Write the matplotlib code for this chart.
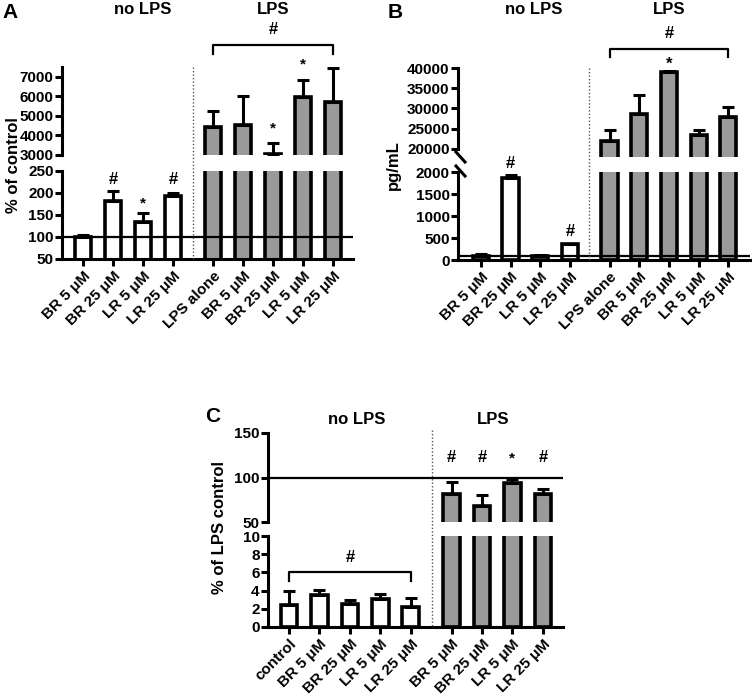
import matplotlib
matplotlib.use("Agg")
import matplotlib.pyplot as plt
from matplotlib.lines import Line2D
from matplotlib.transforms import blended_transform_factory
import numpy as np

plt.rcParams['font.family'] = ['Liberation Sans', 'DejaVu Sans']
plt.rcParams['font.weight'] = 'bold'
plt.rcParams['axes.labelweight'] = 'bold'

# ---------------- data ----------------
A_nolps_labels = ['BR 5 μM', 'BR 25 μM', 'LR 5 μM', 'LR 25 μM']
A_lps_labels = ['LPS alone', 'BR 5 μM', 'BR 25 μM', 'LR 5 μM', 'LR 25 μM']
A_nolps_mean = [100, 181, 133, 193]
A_nolps_err = [5, 23, 21, 6]
A_lps_mean = [4440, 4540, 3050, 5970, 5720]
A_lps_err = [810, 1490, 565, 880, 1740]

B_nolps_labels = ['BR 5 μM', 'BR 25 μM', 'LR 5 μM', 'LR 25 μM']
B_lps_labels = ['LPS alone', 'BR 5 μM', 'BR 25 μM', 'LR 5 μM', 'LR 25 μM']
B_nolps_mean = [90, 1860, 80, 360]
B_nolps_err = [45, 80, 35, 12]
B_lps_mean = [21900, 28700, 38900, 23400, 28000]
B_lps_err = [2800, 4700, 400, 1350, 2450]

C_nolps_labels = ['control', 'BR 5 μM', 'BR 25 μM', 'LR 5 μM', 'LR 25 μM']
C_lps_labels = ['BR 5 μM', 'BR 25 μM', 'LR 5 μM', 'LR 25 μM']
C_nolps_mean = [2.4, 3.5, 2.55, 3.05, 2.2]
C_nolps_err = [1.55, 0.55, 0.4, 0.55, 0.95]
C_lps_mean = [82, 68.5, 94, 82]
C_lps_err = [13, 12, 4.6, 5.3]

W, H = 752, 697
fig = plt.figure(figsize=(W / 100, H / 100), dpi=100)

WHITE = 'white'
GRAY = '#9a9a9a'
LW = 2.2
BAR_LW = 2.6
FS_TICK = 11


def pax(x0, y0, x1, y1):
    return fig.add_axes([x0 / W, 1 - y1 / H, (x1 - x0) / W, (y1 - y0) / H])


def fy(ypx):
    return 1 - ypx / H


def style(ax, bottom):
    ax.spines['top'].set_visible(False)
    ax.spines['right'].set_visible(False)
    ax.spines['left'].set_linewidth(LW)
    ax.spines['bottom'].set_linewidth(LW)
    ax.tick_params(axis='y', length=5, width=LW, labelsize=FS_TICK, pad=1)
    if not bottom:
        ax.spines['bottom'].set_visible(False)
        ax.tick_params(axis='x', bottom=False, labelbottom=False)
    else:
        ax.tick_params(axis='x', length=5, width=LW, labelsize=FS_TICK, pad=2)
    for t in ax.get_yticklabels():
        t.set_fontweight('bold')


def draw_panel(box_up, box_lo, ylim_up, ylim_lo, yt_up, yt_lo, xlim,
               n_no, n_lps, gap, means, errs, labels, hline=None, hline_ax='lo'):
    ax_up = pax(*box_up)
    ax_lo = pax(*box_lo)
    pos = list(range(n_no)) + [n_no - 1 + gap + i for i in range(n_lps)]
    colors = [WHITE] * n_no + [GRAY] * n_lps
    for ax in (ax_up, ax_lo):
        ax.bar(pos, means, width=0.55, color=colors, edgecolor='black',
               linewidth=BAR_LW, zorder=2)
        ax.errorbar(pos, means, yerr=[np.zeros(len(means)), errs], fmt='none',
                    ecolor='black', elinewidth=LW, capsize=4, capthick=LW, zorder=3)
        ax.set_xlim(*xlim)
    ax_up.set_ylim(*ylim_up)
    ax_lo.set_ylim(*ylim_lo)
    ax_up.set_yticks(yt_up)
    ax_lo.set_yticks(yt_lo)
    ax_lo.set_xticks(pos)
    ax_lo.set_xticklabels(labels, rotation=45, ha='right', rotation_mode='anchor',
                          fontsize=FS_TICK, fontweight='bold')
    style(ax_up, False)
    style(ax_lo, True)
    if hline is not None:
        (ax_lo if hline_ax == 'lo' else ax_up).axhline(hline, color='black', lw=1.6, zorder=4)
    return ax_up, ax_lo, pos


def ann(ax, x, ypx, s, size=12):
    tr = blended_transform_factory(ax.transData, fig.transFigure)
    ax.text(x, fy(ypx), s, transform=tr, ha='center', va='center',
            fontsize=size, fontweight='bold', clip_on=False)


def bracket(ax, x0, x1, ypx, ytick_px):
    tr = blended_transform_factory(ax.transData, fig.transFigure)
    ax.add_line(Line2D([x0, x0, x1, x1], [fy(ytick_px), fy(ypx), fy(ypx), fy(ytick_px)],
                       transform=tr, color='black', lw=1.6, clip_on=False))


def vdiv(xpx, y0, y1):
    fig.add_artist(Line2D([xpx / W, xpx / W], [fy(y0), fy(y1)], transform=fig.transFigure,
                          color='#555555', lw=1.0, linestyle=(0, (1, 1.5))))


def title(ax, x, ypx, s):
    ann(ax, x, ypx, s, size=12)


# ---------------- panel A ----------------
aU, aL, posA = draw_panel((62, 67, 353, 155), (62, 171, 353, 259),
                          (3000, 7500), (50, 250),
                          [3000, 4000, 5000, 6000, 7000], [50, 100, 150, 200, 250],
                          (-0.7, 9.0), 4, 5, 1.333,
                          A_nolps_mean + A_lps_mean, A_nolps_err + A_lps_err,
                          A_nolps_labels + A_lps_labels, hline=100)
ann(aL, posA[1], 179, '#')
ann(aL, posA[2], 203, '*', 11)
ann(aL, posA[3], 179, '#')
ann(aU, posA[6], 128, '*', 11)
ann(aU, posA[7], 64, '*', 11)
bracket(aU, posA[4], posA[8], 45, 54)
ann(aU, posA[6], 30, '#')
title(aU, 2.0, 9, 'no LPS')
title(aU, 6.33, 9, 'LPS')
vdiv(193, 67, 259)
fig.text(10 / W, fy(12), 'A', fontsize=15, fontweight='bold', ha='center', va='center')
fig.text(14 / W, fy(165), '% of control', rotation=90, fontsize=12, fontweight='bold',
         ha='center', va='center')

# ---------------- panel B ----------------
bU, bL, posB = draw_panel((458, 68, 750, 157), (458, 172, 750, 260),
                          (18000, 40000), (0, 2000),
                          [20000, 25000, 30000, 35000, 40000], [0, 500, 1000, 1500, 2000],
                          (-0.77, 9.07), 4, 5, 1.34,
                          B_nolps_mean + B_lps_mean, B_nolps_err + B_lps_err,
                          B_nolps_labels + B_lps_labels, hline=100)
bU.spines['left'].set_bounds(20000, 40000)
# axis break marks
for (x0, y0, x1, y1) in [(456, 152, 465, 162), (456, 166, 465, 176)]:
    fig.add_artist(Line2D([x0 / W, x1 / W], [fy(y0), fy(y1)], transform=fig.transFigure,
                          color='black', lw=LW))
ann(bL, posB[1], 163, '#')
ann(bL, posB[3], 232, '#')
ann(bU, posB[6], 64, '*', 12)
bracket(bU, posB[4], posB[8], 49, 57)
ann(bU, posB[6], 34, '#')
title(bU, 1.79, 9, 'no LPS')
title(bU, 6.33, 9, 'LPS')
vdiv(589, 68, 260)
fig.text(395 / W, fy(12), 'B', fontsize=15, fontweight='bold', ha='center', va='center')
fig.text(393 / W, fy(165), 'pg/mL', rotation=90, fontsize=12, fontweight='bold',
         ha='center', va='center')

# ---------------- panel C ----------------
cU, cL, posC = draw_panel((268, 433, 563, 522), (268, 536, 563, 627),
                          (50, 150), (0, 10),
                          [50, 100, 150], [0, 2, 4, 6, 8, 10],
                          (-0.69, 9.0), 5, 4, 1.34,
                          C_nolps_mean + C_lps_mean, C_nolps_err + C_lps_err,
                          C_nolps_labels + C_lps_labels, hline=100, hline_ax='up')
for i, s in zip(range(5, 9), ['#', '#', '*', '#']):
    ann(cU, posC[i], 458, s, 12 if s == '#' else 11)
bracket(cL, posC[0], posC[4], 572, 581)
ann(cL, posC[2], 557, '#')
title(cU, 2.23, 420, 'no LPS')
title(cU, 6.69, 420, 'LPS')
vdiv(432, 430, 627)
fig.text(213 / W, fy(416), 'C', fontsize=15, fontweight='bold', ha='center', va='center')
fig.text(220 / W, fy(528), '% of LPS control', rotation=90, fontsize=12, fontweight='bold',
         ha='center', va='center')

fig.savefig('out.png', dpi=100)
